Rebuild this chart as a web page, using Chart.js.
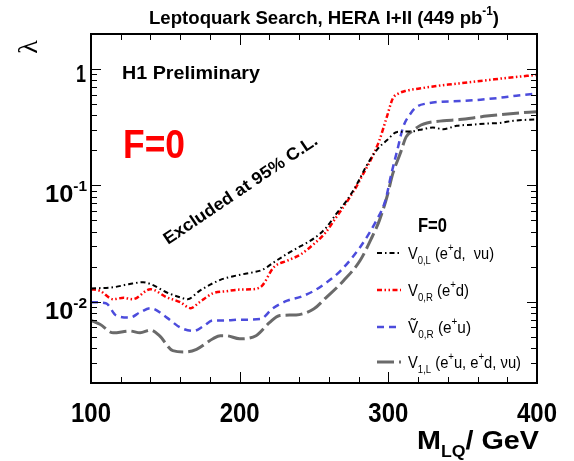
<!DOCTYPE html>
<html>
<head>
<meta charset="utf-8">
<script src="https://cdn.jsdelivr.net/npm/chart.js@4"></script>
<style>
  html, body { margin: 0; padding: 0; background: #fff; }
  #lq { display: block; }
</style>
</head>
<body>
<canvas id="lq" width="574" height="461"></canvas>
<script>
// ── Leptoquark coupling limits vs mass (F=0 vector LQs) ───────────────────────

// V0,L (e+d, nu u)
const massV0L = [100,115,126,135,141,151,160,165,173,187,198,209,215,223,232,241,250,258,265,272,279,285,292,299,306,315,321,330,337,346,357,366,375,384,400];
const lamV0L  = [0.0130,0.0133,0.0142,0.0147,0.0140,0.0120,0.0109,0.0105,0.0124,0.0154,0.0168,0.0179,0.0187,0.0218,0.0258,0.0300,0.0350,0.0430,0.057,0.074,0.103,0.145,0.200,0.244,0.288,0.290,0.300,0.314,0.304,0.325,0.333,0.340,0.344,0.359,0.370];

// V0,R (e+d)
const massV0R = [100,106,115,122,128,140,151,160,167,173,182,191,200,209,215,223,232,241,250,258,265,272,279,283,288,294,299,303,307,312,321,334,344,366,380,400];
const lamV0R  = [0.0128,0.0124,0.0105,0.0108,0.0105,0.0128,0.0109,0.0099,0.0088,0.0099,0.0118,0.0123,0.0127,0.0128,0.0137,0.0198,0.0225,0.0255,0.0314,0.0396,0.0533,0.0718,0.100,0.125,0.164,0.244,0.388,0.558,0.617,0.650,0.680,0.720,0.743,0.800,0.840,0.890];

// V~0,R (e+u)
const massV0Rt = [100,110,117,126,133,140,151,160,169,176,182,191,200,214,222,232,241,250,258,268,281,292,298,302,306,310,315,319,326,335,348,362,375,386,400];
const lamV0Rt  = [0.0099,0.0097,0.0076,0.0073,0.0081,0.0088,0.0073,0.0060,0.0056,0.0062,0.0069,0.0069,0.0070,0.0071,0.0087,0.0102,0.0110,0.0124,0.0145,0.0185,0.0294,0.050,0.074,0.125,0.200,0.318,0.415,0.473,0.506,0.523,0.530,0.545,0.566,0.590,0.615];

// V1,L (e+u, e+d, nu u)
const massV1L = [100,106,115,126,133,140,146,155,164,171,182,187,191,200,211,220,227,238,250,258,270,281,289,294,299,303,308,312,317,322,326,337,348,359,366,384,400];
const lamV1L  = [0.0069,0.0064,0.0054,0.0056,0.0054,0.0057,0.0051,0.0038,0.0037,0.0039,0.0048,0.0051,0.0051,0.0048,0.0051,0.0066,0.0076,0.0077,0.0087,0.0108,0.0152,0.0226,0.0358,0.050,0.079,0.126,0.1875,0.261,0.298,0.330,0.344,0.359,0.368,0.383,0.394,0.415,0.430];

// axes
const xTicks      = [100,120,140,160,180,200,220,240,260,280,300,320,340,360,380,400];
const xLabelTicks = [100,200,300,400];
const yTicks      = [0.002,0.003,0.004,0.005,0.006,0.007,0.008,0.009,
                     0.01,0.02,0.03,0.04,0.05,0.06,0.07,0.08,0.09,
                     0.1,0.2,0.3,0.4,0.5,0.6,0.7,0.8,0.9,1,2];
const yDecades    = [0.01, 0.1, 1];
const yDecadeExp  = ['-2', '-1', ''];

const FONT = '"Liberation Sans", Arial, Helvetica, sans-serif';

function pts(xs, ys) { return xs.map((x, i) => ({ x, y: ys[i] })); }

// Draw a row of text runs (plain / sub / sup), optionally squeezed to a width.
function drawRuns(ctx, runs, x, y, o) {
  const size = o.size, weight = o.weight || 'bold';
  const small = Math.round(size * 0.62);
  const fontOf = r => `${weight} ${r.sub || r.sup ? small : size}px ${o.family || FONT}`;
  let total = 0;
  runs.forEach(r => { ctx.font = fontOf(r); r.w = ctx.measureText(r.t).width; total += r.w; });
  const sx = o.width ? o.width / total : 1;
  ctx.save();
  ctx.translate(x, y);
  if (o.rot) ctx.rotate(o.rot);
  ctx.scale(sx, 1);
  ctx.fillStyle = o.color || '#000';
  ctx.textBaseline = 'alphabetic';
  ctx.textAlign = 'left';
  let cx = o.align === 'right' ? -total : o.align === 'center' ? -total / 2 : 0;
  runs.forEach(r => {
    ctx.font = fontOf(r);
    const dy = r.sub ? size * 0.32 : r.sup ? -size * 0.48 : 0;
    ctx.fillText(r.t, cx, dy);
    cx += r.w;
  });
  ctx.restore();
}

const legendRows = [
  [{ t: 'V' }, { t: '0,L', sub: 1 }, { t: ' (e' }, { t: '+', sup: 1 }, { t: 'd,  \u03bdu)' }],
  [{ t: 'V' }, { t: '0,R', sub: 1 }, { t: ' (e' }, { t: '+', sup: 1 }, { t: 'd)' }],
  [{ t: '\u1e7c' }, { t: '0,R', sub: 1 }, { t: ' (e' }, { t: '+', sup: 1 }, { t: 'u)' }],
  [{ t: 'V' }, { t: '1,L', sub: 1 }, { t: ' (e' }, { t: '+', sup: 1 }, { t: 'u, e' }, { t: '+', sup: 1 }, { t: 'd, \u03bdu)' }]
];
const legendWidths = [86, 61, 63, 113];

const framePlugin = {
  id: 'h1frame',
  afterDraw(chart) {
    const ctx = chart.ctx, a = chart.chartArea;
    const xs = chart.scales.x, ys = chart.scales.y;

    // frame + inward ticks on all four sides
    ctx.save();
    ctx.strokeStyle = '#000';
    ctx.lineWidth = 1;
    ctx.beginPath();
    xTicks.forEach(v => {
      const px = Math.round(xs.getPixelForValue(v)) + 0.5;
      const len = xLabelTicks.includes(v) ? 11 : 6;
      ctx.moveTo(px, a.bottom); ctx.lineTo(px, a.bottom - len);
      ctx.moveTo(px, a.top);    ctx.lineTo(px, a.top + len);
    });
    yTicks.forEach(v => {
      const py = Math.round(ys.getPixelForValue(v)) + 0.5;
      const len = yDecades.includes(v) ? 10 : 6;
      ctx.moveTo(a.left, py);  ctx.lineTo(a.left + len, py);
      ctx.moveTo(a.right, py); ctx.lineTo(a.right - len, py);
    });
    ctx.stroke();
    ctx.lineWidth = 2;
    ctx.strokeRect(a.left, a.top, a.right - a.left, a.bottom - a.top);
    ctx.restore();

    // tick labels
    xLabelTicks.forEach(v => {
      drawRuns(ctx, [{ t: String(v) }], xs.getPixelForValue(v), 422, { size: 28, width: 40, align: 'center' });
    });
    yDecades.forEach((v, i) => {
      const py = ys.getPixelForValue(v);
      if (yDecadeExp[i]) {
        drawRuns(ctx, [{ t: '10' }, { t: yDecadeExp[i], sup: 1 }], 87, py + 17, { size: 23, width: 42, align: 'right' });
      } else {
        drawRuns(ctx, [{ t: '1' }], 86, py + 13, { size: 24, width: 10, align: 'right' });
      }
    });

    // axis titles
    drawRuns(ctx, [{ t: 'M' }, { t: 'LQ', sub: 1 }, { t: '/ GeV' }], 417, 449, { size: 26, width: 122 });
    drawRuns(ctx, [{ t: '\u03bb' }], 37, 47, { size: 28, weight: 'normal', family: '"Liberation Serif", "DejaVu Serif", serif', rot: -Math.PI / 2, align: 'center' });

    // headline and annotations
    drawRuns(ctx, [{ t: 'Leptoquark Search, HERA I+II (449 pb' }, { t: '-1', sup: 1 }, { t: ')' }], 149, 24, { size: 19, width: 350 });
    drawRuns(ctx, [{ t: 'H1 Preliminary' }], 122, 79, { size: 19, width: 138 });
    drawRuns(ctx, [{ t: 'F=0' }], 123, 158, { size: 41, width: 62, color: '#ff0000' });
    drawRuns(ctx, [{ t: 'Excluded at 95% C.L.' }], 168, 245, { size: 17, width: 182, rot: -34 * Math.PI / 180 });

    // legend
    drawRuns(ctx, [{ t: 'F=0' }], 418, 232, { size: 20, width: 29 });
    const rowY = [253, 290, 327, 362];
    chart.data.datasets.forEach((ds, i) => {
      const y = rowY[i];
      ctx.save();
      ctx.strokeStyle = ds.borderColor;
      ctx.lineWidth = ds.borderWidth;
      ctx.setLineDash(ds.borderDash);
      ctx.beginPath();
      ctx.moveTo(377, y); ctx.lineTo(401, y);
      ctx.stroke();
      ctx.restore();
      drawRuns(ctx, legendRows[i], 408, y + 6, { size: 17, weight: 'normal', width: legendWidths[i] });
    });
  }
};

new Chart(document.getElementById('lq'), {
  type: 'line',
  data: {
    datasets: [
      { label: 'V0,L', data: pts(massV0L, lamV0L),   borderColor: '#000000', borderWidth: 2,   borderDash: [5, 3, 1.5, 3] },
      { label: 'V0,R', data: pts(massV0R, lamV0R),   borderColor: '#ff0000', borderWidth: 2.5, borderDash: [5, 2.5, 1.5, 2.5, 1.5, 2.5] },
      { label: '~V0,R', data: pts(massV0Rt, lamV0Rt), borderColor: '#4c4cdc', borderWidth: 2.5, borderDash: [7, 5] },
      { label: 'V1,L', data: pts(massV1L, lamV1L),   borderColor: '#6a6a6a', borderWidth: 3,   borderDash: [17, 5] }
    ]
  },
  options: {
    responsive: false,
    animation: false,
    devicePixelRatio: 1,
    layout: { padding: { left: 91, right: 37, top: 34, bottom: 78 } },
    elements: { point: { radius: 0 }, line: { cubicInterpolationMode: 'monotone', fill: false } },
    plugins: { legend: { display: false }, tooltip: { enabled: false }, title: { display: false } },
    scales: {
      x: { type: 'linear', min: 100, max: 400, display: false },
      y: { type: 'logarithmic', min: 0.002, max: 2, display: false }
    }
  },
  plugins: [framePlugin]
});
</script>
</body>
</html>
